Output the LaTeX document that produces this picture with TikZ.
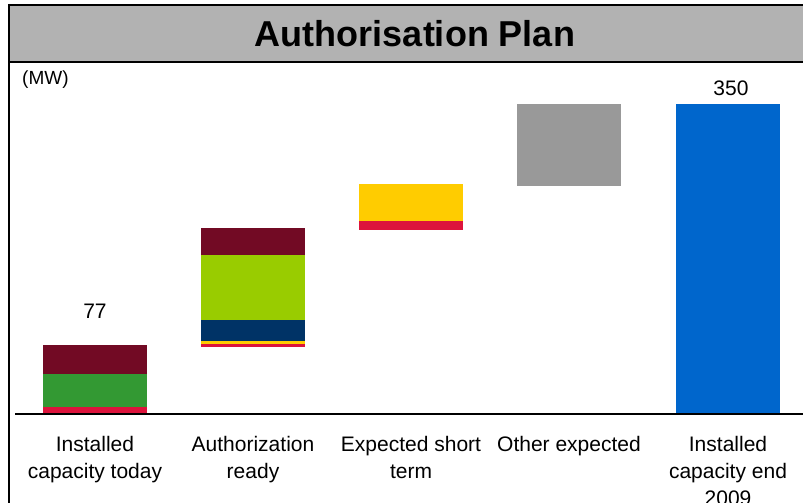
\documentclass[tikz,border=0pt]{standalone}
\usepackage{fontspec}
\setmainfont{Liberation Sans}

\definecolor{titlegray}{HTML}{B2B2B2}
\definecolor{barmaroon}{HTML}{720A24}
\definecolor{bargreen}{HTML}{339933}
\definecolor{barred}{HTML}{DC143C}
\definecolor{barlime}{HTML}{99CC00}
\definecolor{barnavy}{HTML}{003366}
\definecolor{baryellow}{HTML}{FFCC00}
\definecolor{bargray}{HTML}{999999}
\definecolor{barblue}{HTML}{0066CC}

\tikzset{
  frameline/.style={line width=1.8pt, black},
  catlabel/.style={font=\fontsize{21}{27}\selectfont, align=center, anchor=north, inner sep=0pt},
  vallabel/.style={font=\fontsize{21}{25}\selectfont, inner sep=0pt}
}

\begin{document}
\begin{tikzpicture}[x=1pt, y=-1pt]

\useasboundingbox (0,0) rectangle (803,503);

% Title band
\fill[titlegray] (9,5) rectangle (803,62);
\node[font=\fontsize{36}{40}\selectfont\bfseries] (title) at (415,34) {Authorisation Plan};

% Frame lines
\draw[frameline] (9,5) -- (803,5);
\draw[frameline] (9,62) -- (803,62);
\draw[frameline] (9,4) -- (9,503);

% Unit
\node[font=\fontsize{19}{22}\selectfont, anchor=west, inner sep=0pt] (unit) at (22,80) {(MW)};

% Bar 1: installed capacity today
\fill[barred] (43,407) rectangle (147,413);
\fill[bargreen] (43,373.5) rectangle (147,407);
\fill[barmaroon] (43,344.5) rectangle (147,373.5);
\node[vallabel] (v77) at (95,311) {77};

% Bar 2: authorization ready
\fill[barred] (201,344) rectangle (305,347);
\fill[baryellow] (201,340.7) rectangle (305,344);
\fill[barnavy] (201,319.5) rectangle (305,340.7);
\fill[barlime] (201,254.5) rectangle (305,319.5);
\fill[barmaroon] (201,227.5) rectangle (305,254.5);

% Bar 3: expected short term
\fill[barred] (359,221) rectangle (463,230);
\fill[baryellow] (359,183.5) rectangle (463,221);

% Bar 4: other expected
\fill[bargray] (517,104) rectangle (621,186);

% Bar 5: installed capacity end 2009
\fill[barblue] (676,104) rectangle (780,413);
\node[vallabel] (v350) at (731,88) {350};

% Axis
\draw[frameline] (15,414) -- (803,414);

% Category labels
\node[catlabel] (c1) at (95,436) {Installed\\capacity today};
\node[catlabel] (c2) at (253,436) {Authorization\\ready};
\node[catlabel] (c3) at (411,436) {Expected short\\term};
\node[catlabel] (c4) at (569,436) {Other expected};
\node[catlabel] (c5) at (728,436) {Installed\\capacity end\\2009};

\end{tikzpicture}
\end{document}
